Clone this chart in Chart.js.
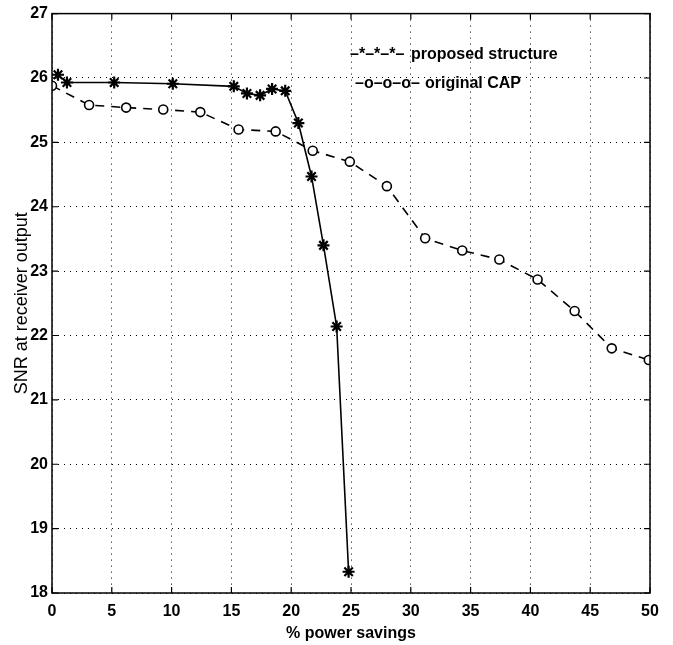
<!DOCTYPE html>
<html>
<head>
<meta charset="utf-8">
<script src="https://cdn.jsdelivr.net/npm/chart.js@4/dist/chart.umd.min.js"></script>
<style>
    html, body { margin: 0; padding: 0; background: #fff; }
    #wrap { position: relative; width: 673px; height: 645px; }
</style>
</head>
<body>
<div id="wrap"><canvas id="grafico1"></canvas></div>
<script>
// proposed structure (stars, solid)
var propX = [0.5, 1.25, 5.2, 10.1, 15.2, 16.3, 17.4, 18.4, 19.5, 20.6, 21.7, 22.7, 23.8, 24.8];
var propY = [26.05, 25.93, 25.93, 25.91, 25.87, 25.76, 25.73, 25.83, 25.8, 25.3, 24.47, 23.4, 22.14, 18.33];
// original CAP (circles, dashed)
var capX = [0, 3.1, 6.2, 9.3, 12.4, 15.6, 18.7, 21.8, 24.9, 28.0, 31.2, 34.3, 37.4, 40.6, 43.7, 46.8, 49.9];
var capY = [25.88, 25.58, 25.54, 25.51, 25.47, 25.2, 25.17, 24.87, 24.7, 24.32, 23.51, 23.32, 23.18, 22.87, 22.38, 21.8, 21.62];
var xTicks = [0, 5, 10, 15, 20, 25, 30, 35, 40, 45, 50];
var yTicks = [18, 19, 20, 21, 22, 23, 24, 25, 26, 27];
var legendSamples = ['\u2013*\u2013*\u2013*\u2013', '\u2013o\u2013o\u2013o\u2013'];
var legendLabels = ['proposed structure', 'original CAP'];

var fuente = "'Liberation Sans Narrow', 'Arial Narrow', 'Liberation Sans', Arial, sans-serif";

function pares(xs, ys) {
    var out = [];
    for (var i = 0; i < xs.length; i++) {
        out.push({ x: xs[i], y: ys[i] });
    }
    return out;
}

// box, inward ticks and the text legend
var marcoPlugin = {
    id: 'marco',
    afterDatasetsDraw: function (chart) {
        var ctx = chart.ctx;
        var a = chart.chartArea;
        var sx = chart.scales.x, sy = chart.scales.y;
        ctx.save();
        ctx.strokeStyle = '#000';
        ctx.lineWidth = 1.5;
        ctx.strokeRect(a.left, a.top, a.right - a.left, a.bottom - a.top);
        ctx.lineWidth = 1.2;
        ctx.beginPath();
        xTicks.forEach(function (v) {
            var px = sx.getPixelForValue(v);
            ctx.moveTo(px, a.bottom); ctx.lineTo(px, a.bottom - 6);
            ctx.moveTo(px, a.top); ctx.lineTo(px, a.top + 6);
        });
        yTicks.forEach(function (v) {
            var py = sy.getPixelForValue(v);
            ctx.moveTo(a.left, py); ctx.lineTo(a.left + 6, py);
            ctx.moveTo(a.right, py); ctx.lineTo(a.right - 6, py);
        });
        ctx.stroke();
        ctx.fillStyle = '#000';
        ctx.textAlign = 'left';
        ctx.textBaseline = 'middle';
        ctx.font = 'bold 16px ' + fuente;
        ctx.fillText(legendSamples[0], 350, 55);
        ctx.fillText(legendSamples[1], 355, 84);
        ctx.font = 'bold 16px ' + fuente;
        ctx.fillText(legendLabels[0], 411, 55);
        ctx.fillText(legendLabels[1], 425, 84);
        ctx.restore();
    }
};

function cargarGrafico() {
    var ctx = document.getElementById('grafico1').getContext('2d');
    var chart = new Chart(ctx, {
        type: 'scatter',
        data: {
            datasets: [
                {
                    label: 'proposed structure',
                    data: pares(propX, propY),
                    showLine: true,
                    borderColor: '#000',
                    borderWidth: 1.6,
                    pointStyle: 'star',
                    pointRadius: 6,
                    pointBorderWidth: 2.2,
                    pointBorderColor: '#000',
                    pointBackgroundColor: '#000'
                },
                {
                    label: 'original CAP',
                    data: pares(capX, capY),
                    showLine: true,
                    borderColor: '#000',
                    borderWidth: 1.6,
                    borderDash: [9, 7],
                    pointStyle: 'circle',
                    pointRadius: 4.5,
                    pointBorderWidth: 1.6,
                    pointBorderColor: '#000',
                    pointBackgroundColor: '#fff'
                }
            ]
        },
        options: {
            responsive: true,
            maintainAspectRatio: false,
            animation: false,
            layout: { padding: { top: 13, right: 23, left: 0, bottom: 0 } },
            plugins: {
                legend: { display: false },
                tooltip: { enabled: false }
            },
            scales: {
                x: {
                    type: 'linear',
                    min: 0,
                    max: 50,
                    afterBuildTicks: function (s) {
                        s.ticks = xTicks.map(function (v) { return { value: v }; });
                    },
                    afterFit: function (s) { s.height = 52; },
                    border: { display: false, dash: [1, 5] },
                    grid: { color: '#000', lineWidth: 1, drawTicks: false },
                    ticks: { color: '#000', padding: 9, maxRotation: 0, font: { family: fuente, size: 16, weight: 'bold' } },
                    title: {
                        display: true,
                        text: '% power savings',
                        color: '#000',
                        padding: { top: 0, bottom: 2 },
                        font: { family: fuente, size: 16, weight: 'bold' }
                    }
                },
                y: {
                    type: 'linear',
                    min: 18,
                    max: 27,
                    afterBuildTicks: function (s) {
                        s.ticks = yTicks.map(function (v) { return { value: v }; });
                    },
                    afterFit: function (s) { s.width = 52; },
                    border: { display: false, dash: [1, 5] },
                    grid: { color: '#000', lineWidth: 1, drawTicks: false },
                    ticks: { color: '#000', padding: 4, font: { family: fuente, size: 16, weight: 'bold' } },
                    title: {
                        display: true,
                        text: 'SNR at receiver output',
                        color: '#000',
                        padding: { top: 11, bottom: 0 },
                        font: { family: fuente, size: 18 }
                    }
                }
            }
        },
        plugins: [marcoPlugin]
    });
    return chart;
}

cargarGrafico();
</script>
</body>
</html>
